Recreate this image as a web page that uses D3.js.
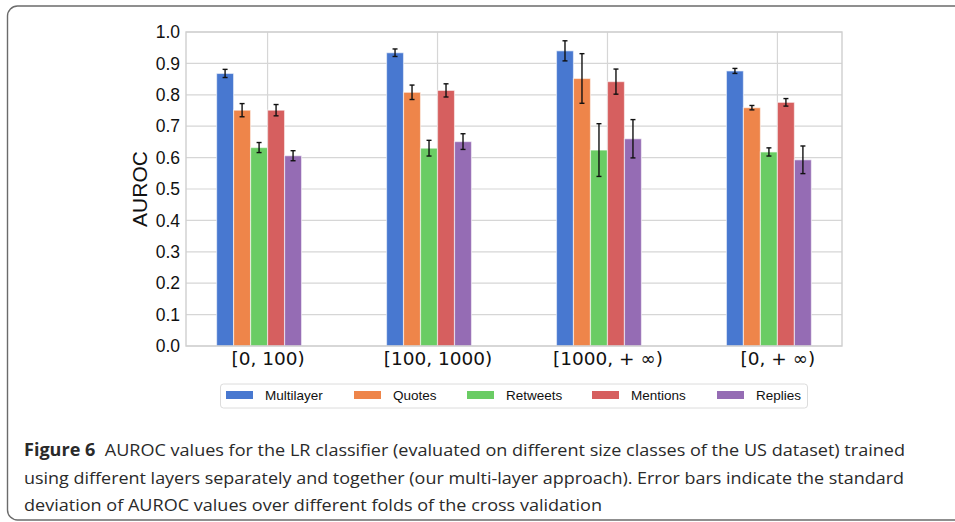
<!DOCTYPE html>
<html>
<head>
<meta charset="utf-8">
<script src="https://cdn.jsdelivr.net/npm/d3@7"></script>
<style>
  body { margin: 0; background: #fff; }
  svg { display: block; }
</style>
</head>
<body>
<div id="chart"></div>
<script>
// Chart data
const groups = ["[0, 100)", "[100, 1000)", "[1000, + \u221e)", "[0, + \u221e)"];
const layers = ["Multilayer", "Quotes", "Retweets", "Mentions", "Replies"];
const colors = ["#4878d0", "#ee854a", "#6acc64", "#d65f5f", "#956cb4"];

// one row per layer, one value per size class
const means = [
  [0.868, 0.934, 0.940, 0.876],
  [0.751, 0.808, 0.852, 0.759],
  [0.632, 0.630, 0.624, 0.618],
  [0.751, 0.814, 0.842, 0.776],
  [0.606, 0.651, 0.660, 0.593]
];
const stds = [
  [0.013, 0.012, 0.032, 0.008],
  [0.021, 0.023, 0.079, 0.007],
  [0.016, 0.025, 0.084, 0.013],
  [0.018, 0.021, 0.040, 0.012],
  [0.016, 0.025, 0.061, 0.044]
];
const yTicks = [0, 0.1, 0.2, 0.3, 0.4, 0.5, 0.6, 0.7, 0.8, 0.9, 1.0];

const caption = [
  "AUROC values for the LR classifier (evaluated on different size classes of the US dataset) trained",
  "using different layers separately and together (our multi-layer approach). Error bars indicate the standard",
  "deviation of AUROC values over different folds of the cross validation"
];

const width = 955;
const height = 522;
const plot = {left: 186, right: 842, top: 32, bottom: 346};

const svg = d3.select("#chart")
  .append("svg")
  .attr("width", width)
  .attr("height", height);

// figure frame
svg.append("rect")
  .attr("x", 7.5).attr("y", 6)
  .attr("width", 1000).attr("height", 514)
  .attr("rx", 10)
  .attr("fill", "none")
  .attr("stroke", "#6b6b6b")
  .attr("stroke-width", 1.4);

// Scales
const x = d3.scaleLinear()
  .domain([-0.48, 3.38])
  .range([plot.left, plot.right]);

const offset = d3.scaleBand()
  .domain(layers)
  .range([-0.3, 0.2]);

const y = d3.scaleLinear()
  .domain([0, 1])
  .range([plot.bottom, plot.top]);

// grid lines
svg.append("g")
  .selectAll("line")
  .data(yTicks)
  .join("line")
    .attr("x1", plot.left).attr("x2", plot.right)
    .attr("y1", d => y(d)).attr("y2", d => y(d))
    .attr("stroke", "#d6d6d6")
    .attr("stroke-width", 1.2);

svg.append("g")
  .selectAll("line")
  .data(groups)
  .join("line")
    .attr("x1", (d, i) => x(i)).attr("x2", (d, i) => x(i))
    .attr("y1", plot.top).attr("y2", plot.bottom)
    .attr("stroke", "#d6d6d6")
    .attr("stroke-width", 1.2);

// Bars
const bars = [];
layers.forEach((s, j) => {
  groups.forEach((g, i) => {
    bars.push({layer: s, j: j, i: i, mean: means[j][i], std: stds[j][i]});
  });
});

svg.append("g")
  .selectAll("rect")
  .data(bars)
  .join("rect")
    .attr("x", d => x(d.i + offset(d.layer)))
    .attr("y", d => y(d.mean))
    .attr("width", d => x(d.i + offset(d.layer) + offset.bandwidth()) - x(d.i + offset(d.layer)))
    .attr("height", d => y(0) - y(d.mean))
    .attr("fill", d => colors[d.j])
    .attr("stroke", "rgba(255,255,255,0.55)")
    .attr("stroke-width", 1.2);

// Error bars
const err = svg.append("g")
  .attr("stroke", "#111")
  .attr("stroke-width", 1.4);

const cx = d => x(d.i + offset(d.layer) + offset.bandwidth() / 2);

err.selectAll(".stem")
  .data(bars)
  .join("line")
    .attr("class", "stem")
    .attr("x1", cx).attr("x2", cx)
    .attr("y1", d => y(d.mean - d.std))
    .attr("y2", d => y(d.mean + d.std));

err.selectAll(".cap-top")
  .data(bars)
  .join("line")
    .attr("class", "cap-top")
    .attr("x1", d => cx(d) - 2.5).attr("x2", d => cx(d) + 2.5)
    .attr("y1", d => y(d.mean + d.std))
    .attr("y2", d => y(d.mean + d.std));

err.selectAll(".cap-bot")
  .data(bars)
  .join("line")
    .attr("class", "cap-bot")
    .attr("x1", d => cx(d) - 2.5).attr("x2", d => cx(d) + 2.5)
    .attr("y1", d => y(d.mean - d.std))
    .attr("y2", d => y(d.mean - d.std));

// plot frame (spines)
svg.append("rect")
  .attr("x", plot.left).attr("y", plot.top)
  .attr("width", plot.right - plot.left)
  .attr("height", plot.bottom - plot.top)
  .attr("fill", "none")
  .attr("stroke", "#cfcfcf")
  .attr("stroke-width", 1.4);

// Axes
const yAxis = svg.append("g")
  .attr("transform", `translate(${plot.left}, 0)`)
  .call(d3.axisLeft(y).tickValues(yTicks).tickFormat(d3.format(".1f")).tickSize(0).tickPadding(6));
yAxis.select(".domain").remove();
yAxis.selectAll("text")
  .attr("font-family", "Liberation Sans, Arial, sans-serif")
  .attr("font-size", "17.5px")
  .attr("fill", "#111");

const xAxis = svg.append("g")
  .attr("transform", `translate(0, ${plot.bottom})`)
  .call(d3.axisBottom(x).tickValues(d3.range(groups.length)).tickFormat(i => groups[i]).tickSize(0).tickPadding(6));
xAxis.select(".domain").remove();
xAxis.selectAll("text")
  .attr("font-family", "DejaVu Sans, sans-serif")
  .attr("font-size", "18.5px")
  .attr("fill", "#111");

svg.append("text")
  .attr("transform", `translate(147, ${(plot.top + plot.bottom) / 2}) rotate(-90)`)
  .attr("text-anchor", "middle")
  .attr("font-family", "Liberation Sans, Arial, sans-serif")
  .attr("font-size", "21px")
  .attr("fill", "#111")
  .text("AUROC");

// Legend
const legendX = [226, 354, 467, 592, 717];
const legend = svg.append("g");
legend.append("rect")
  .attr("x", 220.5).attr("y", 384)
  .attr("width", 587).attr("height", 24)
  .attr("rx", 3)
  .attr("fill", "#fff")
  .attr("stroke", "#dcdcdc");

const items = legend.selectAll(".item")
  .data(layers)
  .join("g")
    .attr("class", "item")
    .attr("transform", (d, i) => `translate(${legendX[i]}, 391)`);

items.append("rect")
  .attr("width", 27).attr("height", 8)
  .attr("fill", (d, i) => colors[i]);

items.append("text")
  .attr("x", 39).attr("y", 9)
  .attr("font-family", "Liberation Sans, Arial, sans-serif")
  .attr("font-size", "13.5px")
  .attr("fill", "#111")
  .text(d => d);

// Caption
const cap = svg.append("g")
  .attr("font-family", "Open Sans, sans-serif")
  .attr("font-size", "17px")
  .attr("fill", "#2a2a2a");

const capY = [456, 483.5, 511];
const capW = [881, 880, 578];

const line1 = cap.append("text")
  .attr("x", 24).attr("y", capY[0])
  .attr("textLength", capW[0])
  .attr("lengthAdjust", "spacingAndGlyphs");
line1.append("tspan").attr("font-weight", "bold").text("Figure 6");
line1.append("tspan").text("\u00a0 " + caption[0]);

cap.selectAll(".rest")
  .data(caption.slice(1))
  .join("text")
    .attr("class", "rest")
    .attr("x", 24)
    .attr("y", (d, i) => capY[i + 1])
    .attr("textLength", (d, i) => capW[i + 1])
    .attr("lengthAdjust", "spacingAndGlyphs")
    .text(d => d);
</script>
</body>
</html>
